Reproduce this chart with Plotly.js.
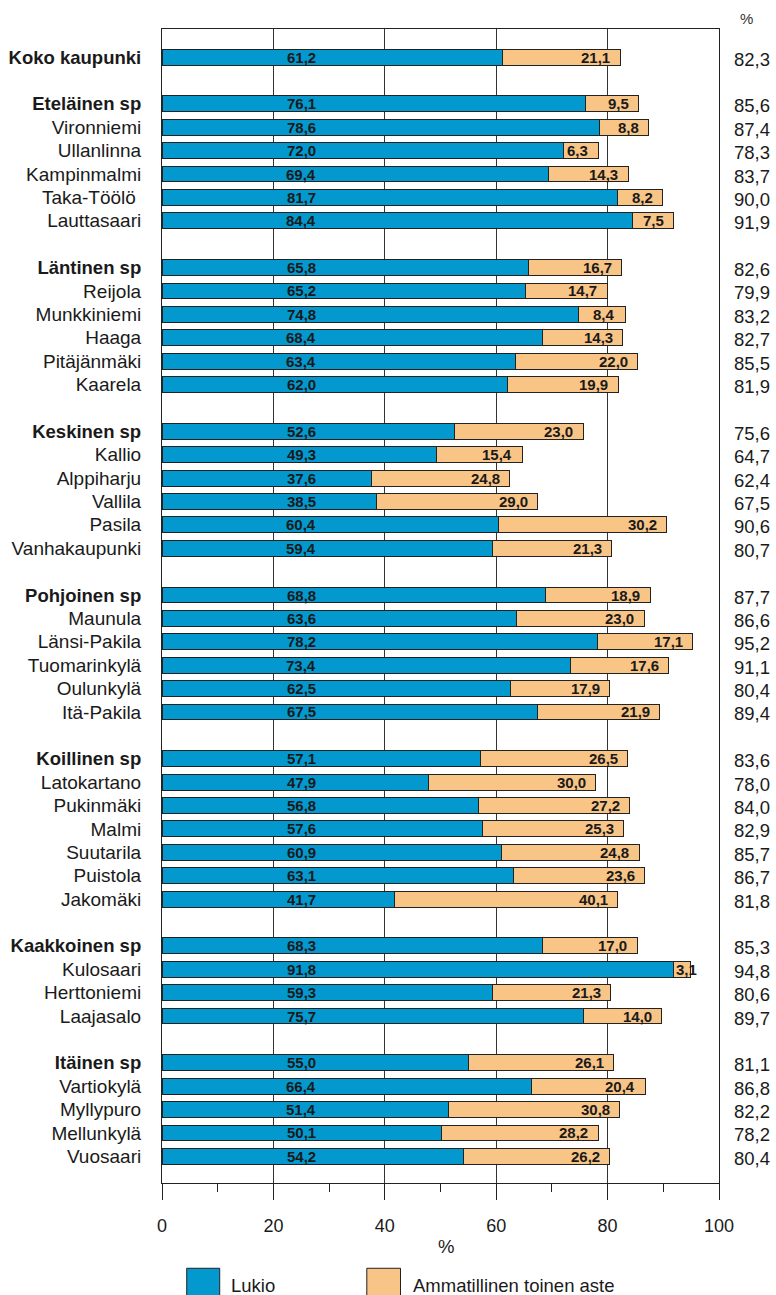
<!DOCTYPE html>
<html>
<head>
<meta charset="utf-8">
<script src="https://cdn.plot.ly/plotly-3.0.1.min.js"></script>
<style>
html, body { margin: 0; padding: 0; background: #fff; }
#chart { width: 776px; height: 1295px; }
</style>
</head>
<body>
<div id="chart"></div>
<script>
const areas = ['Koko kaupunki',
  'Eteläinen sp','Vironniemi','Ullanlinna','Kampinmalmi','Taka-Töölö ','Lauttasaari',
  'Läntinen sp','Reijola','Munkkiniemi','Haaga','Pitäjänmäki','Kaarela',
  'Keskinen sp','Kallio','Alppiharju','Vallila','Pasila','Vanhakaupunki',
  'Pohjoinen sp','Maunula','Länsi-Pakila','Tuomarinkylä','Oulunkylä','Itä-Pakila',
  'Koillinen sp','Latokartano','Pukinmäki','Malmi','Suutarila','Puistola','Jakomäki',
  'Kaakkoinen sp','Kulosaari','Herttoniemi','Laajasalo',
  'Itäinen sp','Vartiokylä','Myllypuro','Mellunkylä','Vuosaari'];
const headers = ['Koko kaupunki','Eteläinen sp','Läntinen sp','Keskinen sp','Pohjoinen sp',
  'Koillinen sp','Kaakkoinen sp','Itäinen sp'];
const lukio = [61.2,
  76.1,78.6,72.0,69.4,81.7,84.4,
  65.8,65.2,74.8,68.4,63.4,62.0,
  52.6,49.3,37.6,38.5,60.4,59.4,
  68.8,63.6,78.2,73.4,62.5,67.5,
  57.1,47.9,56.8,57.6,60.9,63.1,41.7,
  68.3,91.8,59.3,75.7,
  55.0,66.4,51.4,50.1,54.2];
const ammatillinen = [21.1,
  9.5,8.8,6.3,14.3,8.2,7.5,
  16.7,14.7,8.4,14.3,22.0,19.9,
  23.0,15.4,24.8,29.0,30.2,21.3,
  18.9,23.0,17.1,17.6,17.9,21.9,
  26.5,30.0,27.2,25.3,24.8,23.6,40.1,
  17.0,3.1,21.3,14.0,
  26.1,20.4,30.8,28.2,26.2];
const totals = [82.3,
  85.6,87.4,78.3,83.7,90.0,91.9,
  82.6,79.9,83.2,82.7,85.5,81.9,
  75.6,64.7,62.4,67.5,90.6,80.7,
  87.7,86.6,95.2,91.1,80.4,89.4,
  83.6,78.0,84.0,82.9,85.7,86.7,81.8,
  85.3,94.8,80.6,89.7,
  81.1,86.8,82.2,78.2,80.4];
const seriesNames = ['Lukio','Ammatillinen toinen aste'];
const xTicks = [0,20,40,60,80,100];

const BLUE = '#0399CE', ORANGE = '#F9C587', INK = '#1a1a1a';
const FONT = 'Liberation Sans, Arial, Helvetica, sans-serif';
const fmt = v => v.toFixed(1).replace('.', ',');

// row positions with a blank row before every group header
const ypos = [];
let p = 0;
areas.forEach((a, i) => {
  if (i > 0 && headers.includes(a)) p += 1;
  ypos.push(p); p += 1;
});
const ticktext = areas.map(a => headers.includes(a)
  ? '<span style="font-size:18.5px"><b>' + a + '</b></span>' : a);

const barLine = {color: '#222', width: 1};
const traces = [
  {type: 'bar', orientation: 'h', name: seriesNames[0], y: ypos, x: lukio,
   width: 0.68, marker: {color: BLUE, line: barLine}, hoverinfo: 'x+name'},
  {type: 'bar', orientation: 'h', name: seriesNames[1], y: ypos, x: ammatillinen,
   width: 0.68, marker: {color: ORANGE, line: barLine}, hoverinfo: 'x+name'}
];

const annotations = [];
areas.forEach((a, i) => {
  annotations.push({x: 25, y: ypos[i], xref: 'x', yref: 'y', text: '<b>' + fmt(lukio[i]) + '</b>',
    showarrow: false, xanchor: 'center', yanchor: 'middle', font: {family: FONT, size: 15, color: INK}});
  const narrow = ammatillinen[i] < 5;
  annotations.push({x: narrow ? lukio[i] : lukio[i] + ammatillinen[i], y: ypos[i], xref: 'x', yref: 'y',
    text: '<b>' + fmt(ammatillinen[i]) + '</b>', showarrow: false,
    xanchor: narrow ? 'left' : 'right', xshift: narrow ? 1 : -8, yanchor: 'middle',
    font: {family: FONT, size: 15, color: INK}});
  annotations.push({x: 1.0952, y: ypos[i], xref: 'paper', yref: 'y', text: fmt(totals[i]),
    showarrow: false, xanchor: 'right', yanchor: 'middle', yshift: -2,
    font: {family: FONT, size: 18.5, color: INK}});
});
annotations.push({x: 1.0498, y: 1.0095, xref: 'paper', yref: 'paper', text: '%', showarrow: false,
  xanchor: 'center', yanchor: 'middle', font: {family: FONT, size: 15, color: '#333'}});
annotations.push({x: 0.5096, y: -0.0549, xref: 'paper', yref: 'paper', text: '%', showarrow: false,
  xanchor: 'center', yanchor: 'middle', font: {family: FONT, size: 18.5, color: INK}});
// legend
const legX = [[0.0444, 0.1036, 0.1203], [0.3677, 0.4282, 0.4462]];
const legCol = [BLUE, ORANGE];
const shapes = [];
seriesNames.forEach((n, k) => {
  shapes.push({type: 'rect', xref: 'paper', yref: 'paper', x0: legX[k][0], x1: legX[k][1],
    y0: -0.0739, y1: -0.11, fillcolor: legCol[k], line: {color: '#222', width: 1}});
  annotations.push({x: legX[k][2], y: -0.0887, xref: 'paper', yref: 'paper', text: n, showarrow: false,
    xanchor: 'left', yanchor: 'middle', font: {family: FONT, size: 18.5, color: INK}});
});

const layout = {
  width: 776, height: 1295,
  margin: {l: 162.3, r: 57.3, t: 29, b: 112.3, pad: 0},
  paper_bgcolor: '#fff', plot_bgcolor: '#fff',
  barmode: 'stack', showlegend: false,
  font: {family: FONT, size: 19, color: INK},
  xaxis: {range: [0, 100], tickvals: xTicks, ticktext: xTicks.map(String),
    ticks: 'outside', ticklen: 16, tickwidth: 1, tickcolor: '#222',
    showgrid: true, gridcolor: '#333', gridwidth: 1, zeroline: false,
    showline: true, mirror: true, linecolor: '#222', linewidth: 1,
    ticklabelstandoff: 10,
    minor: {dtick: 10, tick0: 0, ticks: 'outside', ticklen: 8, tickcolor: '#222', tickwidth: 1, showgrid: false},
    tickfont: {family: FONT, size: 18, color: INK}, fixedrange: true},
  yaxis: {range: [48.14, -1.2], tickvals: ypos, ticktext: ticktext, ticks: '',
    showgrid: false, zeroline: false, showline: true, mirror: true, linecolor: '#222', linewidth: 1,
    ticklabelstandoff: 16, tickfont: {family: FONT, size: 19, color: INK}, fixedrange: true},
  annotations: annotations, shapes: shapes
};
Plotly.newPlot('chart', traces, layout, {displayModeBar: false, staticPlot: true});
</script>
</body>
</html>
